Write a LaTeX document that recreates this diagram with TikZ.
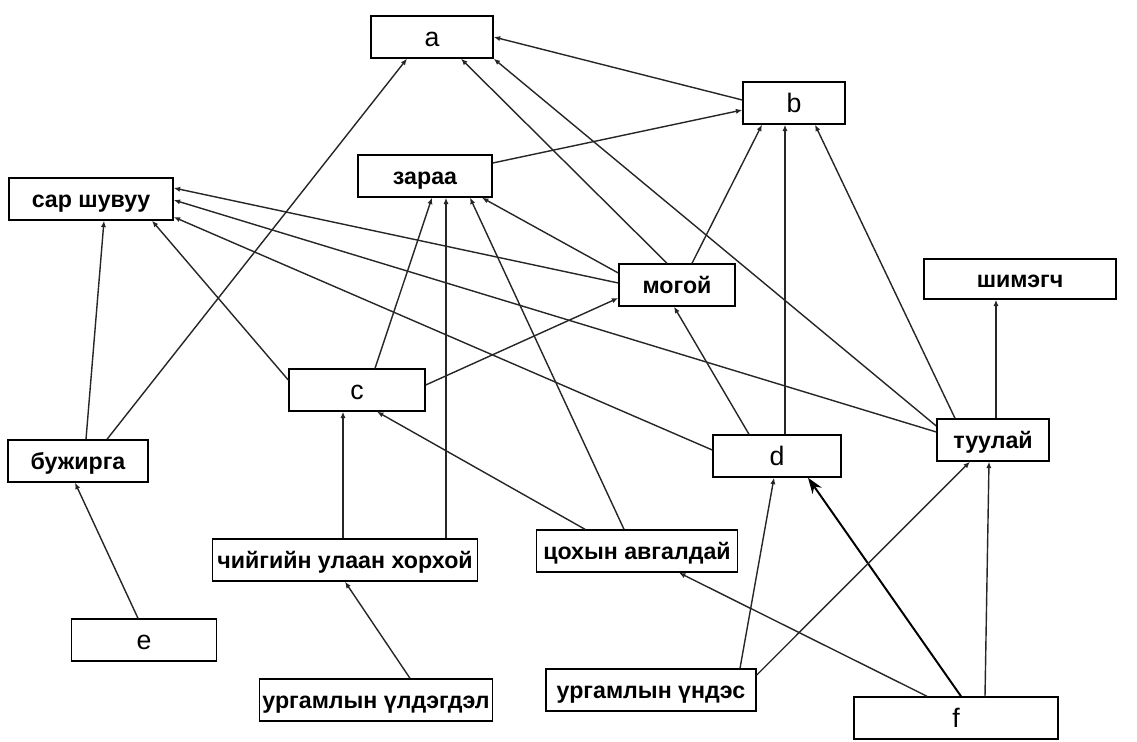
\documentclass[tikz,border=0pt]{standalone}
\usepackage{fontspec}
\setmainfont{Liberation Sans}
\usetikzlibrary{positioning, shapes, arrows.meta, calc}

\begin{document}
\begin{tikzpicture}[x=0.025cm, y=-0.025cm,
    box/.style={draw, line width=1pt, minimum height=1.05cm, inner sep=0pt, text height=12pt, text depth=0pt, font=\bfseries\fontsize{16.5}{18}\selectfont},
    lbox/.style={box, text height=14pt, font=\fontsize{19}{22}\selectfont},
    arr/.style={-{Latex[length=1.6mm,width=1.3mm]}, line width=1pt, draw=black!85},
    bigarr/.style={-{Stealth[length=4mm,width=2.8mm]}, line width=1.4pt}]
\useasboundingbox (0,0) rectangle (1137,742);

% Nodes
\node[lbox, minimum width=3.05cm] (a) at (432,37) {a};
\node[lbox, minimum width=2.55cm] (b) at (794,103) {b};
\node[box, minimum width=3.35cm] (zaraa) at (425,176) {зараа};
\node[box, minimum width=4.1cm] (sar) at (91,199) {сар шувуу};
\node[box, minimum width=2.9cm] (mogoi) at (677,285) {могой};
\node[box, minimum width=4.8cm, minimum height=1cm] (shimegch) at (1020,279) {шимэгч};
\node[lbox, minimum width=3.4cm] (c) at (357,390) {c};
\node[box, minimum width=3.5cm] (buj) at (78,461) {бужирга};
\node[lbox, minimum width=3.2cm] (d) at (777,456) {d};
\node[box, minimum width=2.8cm] (tuulai) at (993,440) {туулай};
\node[box, minimum width=6.625cm] (chiig) at (345,560) {чийгийн улаан хорхой};
\node[box, minimum width=5.025cm] (tsokh) at (637,551) {цохын авгалдай};
\node[lbox, minimum width=3.625cm] (e) at (144,640) {e};
\node[box, minimum width=5.825cm] (uldegdel) at (376,700) {ургамлын үлдэгдэл};
\node[box, minimum width=5.25cm] (undes) at (651,690) {ургамлын үндэс};
\node[lbox, minimum width=5.1cm] (f) at (956,718) {f};

% Arrows to a and b
\draw[arr] ($(b.west)+(0,-3)$) -- (a.east);
\draw[arr] ($(zaraa.east)+(0,-13)$) -- ($(b.west)+(0,7)$);
\draw[arr] ($(buj.north)+(29,0)$) -- ($(a.south)+(-25,0)$);
\draw[arr] ($(mogoi.north)+(-10,0)$) -- ($(a.south)+(29,0)$);
\draw[arr] ($(tuulai.west)+(0,-14)$) -- (a.south east);
\draw[arr] ($(mogoi.north)+(15,0)$) -- ($(b.south)+(-32,0)$);
\draw[arr] ($(d.north)+(8,0)$) -- ($(b.south)+(-9,0)$);
\draw[arr] ($(tuulai.north)+(-38,0)$) -- ($(b.south)+(21,0)$);

% Arrows to zaraa
\draw[arr] ($(mogoi.west)+(0,-12)$) -- ($(zaraa.south)+(57,0)$);
\draw[arr] ($(c.north)+(18,0)$) -- ($(zaraa.south)+(7,0)$);
\draw[arr] ($(chiig.north)+(101,0)$) -- ($(zaraa.south)+(21,0)$);
\draw[arr] ($(tsokh.north)+(-13,0)$) -- ($(zaraa.south)+(45,0)$);

% Arrows to sar shuvuu
\draw[arr] ($(mogoi.west)+(0,-2)$) -- ($(sar.east)+(0,-11)$);
\draw[arr] ($(tuulai.west)+(0,-8)$) -- ($(sar.east)+(0,1)$);
\draw[arr] ($(d.west)+(0,-6)$) -- ($(sar.east)+(0,18)$);
\draw[arr] ($(c.west)+(0,-10)$) -- ($(sar.south)+(61,0)$);
\draw[arr] ($(buj.north)+(8,0)$) -- ($(sar.south)+(13,0)$);

% Arrows to the middle row
\draw[arr] ($(c.east)+(0,-5)$) -- ($(mogoi.west)+(0,13)$);
\draw[arr] ($(d.north)+(-28,0)$) -- ($(mogoi.south)+(-3,0)$);
\draw[arr] ($(tuulai.north)+(3,0)$) -- ($(shimegch.south)+(-24,0)$);
\draw[arr] ($(chiig.north)+(-2,0)$) -- ($(c.south)+(-14,0)$);
\draw[arr] ($(tsokh.north)+(-52,0)$) -- ($(c.south)+(20,0)$);
\draw[arr] ($(e.north)+(-6,0)$) -- ($(buj.south)+(-3,0)$);

% Arrows from the bottom row
\draw[arr] ($(uldegdel.north)+(34,0)$) -- (chiig.south);
\draw[arr] ($(f.north)+(-29,0)$) -- ($(tsokh.south)+(42,0)$);
\draw[arr] ($(undes.north)+(89,0)$) -- ($(d.south)+(-3,0)$);
\draw[bigarr] ($(f.north)+(5,0)$) -- ($(d.south)+(31,0)$);
\draw[arr] ($(undes.east)+(0,-15)$) -- ($(tuulai.south)+(-23,0)$);
\draw[arr] ($(f.north)+(29,0)$) -- ($(tuulai.south)+(-4,0)$);
\end{tikzpicture}
\end{document}
